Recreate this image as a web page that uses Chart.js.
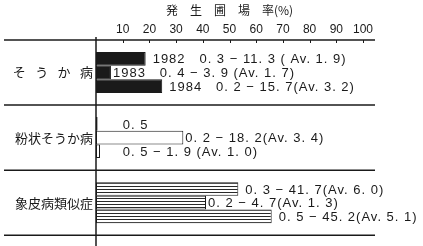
<!DOCTYPE html>
<html>
<head>
<meta charset="utf-8">
<script src="https://cdn.jsdelivr.net/npm/chart.js@4/dist/chart.umd.min.js"></script>
<style>
  html, body { margin: 0; padding: 0; background: #fff; }
  canvas { display: block; }
</style>
</head>
<body>
<canvas id="chart" width="423" height="246"></canvas>
<script>
const categories = ['そ\u2002 う\u2002 か\u2002 病', '粉状そうか病', '象皮病類似症'];
// bar lengths (%), one array per bar position
const firstBars  = [18.6, 0.6, 53.3];
const secondBars = [5.6, 32.7, 41.2];
const thirdBars  = [24.8, 1.5, 65.8];
const firstLabels  = ['1982   0. 3 − 11. 3 ( Av. 1. 9)', '0. 5', '0. 3 − 41. 7(Av. 6. 0)'];
const secondLabels = ['1983   0. 4 − 3. 9 (Av. 1. 7)', '0. 2 − 18. 2(Av. 3. 4)', '0. 2 − 4. 7(Av. 1. 3)'];
const thirdLabels  = ['1984   0. 2 − 15. 7(Av. 3. 2)', '0. 5 − 1. 9 (Av. 1. 0)', '0. 5 − 45. 2(Av. 5. 1)'];
const xTicks = [10, 20, 30, 40, 50, 60, 70, 80, 90, 100];

const ink = '#1a1a1a';

// horizontal stripes for the third group
function stripes() {
    const c = document.createElement('canvas');
    c.width = 4; c.height = 3;
    const g = c.getContext('2d');
    g.fillStyle = '#fff';
    g.fillRect(0, 0, 4, 3);
    g.fillStyle = '#2a2a2a';
    g.fillRect(0, 0, 4, 1);
    return g.createPattern(c, 'repeat');
}
const stripe = stripes();
const fills = [ink, '#fff', stripe];

function makeSet(values, labels, gap) {
    return {
        data: values,
        labels: labels,
        labelGap: gap,
        backgroundColor: fills,
        borderColor: ink,
        borderWidth: 1,
        borderSkipped: false,
        barPercentage: 1,
        categoryPercentage: 0.63
    };
}

// separators, axis lines and the text next to each bar
const decor = {
    id: 'decor',
    afterDraw(chart) {
        const ctx = chart.ctx;
        const area = chart.chartArea;
        const ys = chart.scales.y;
        const xs = chart.scales.x;
        ctx.save();
        ctx.strokeStyle = ink;
        ctx.lineWidth = 1.5;
        const n = categories.length;
        const step = (ys.getPixelForValue(1) - ys.getPixelForValue(0));
        for (let i = 0; i <= n; i++) {
            const y = ys.getPixelForValue(0) - step / 2 + i * step;
            ctx.beginPath();
            ctx.moveTo(4, y);
            ctx.lineTo(area.right + 12, y);
            ctx.stroke();
        }
        ctx.beginPath();
        ctx.moveTo(area.left, area.top - 3);
        ctx.lineTo(area.left, chart.height);
        ctx.stroke();

        // little tick marks hanging below the top axis
        ctx.lineWidth = 1;
        xTicks.forEach(v => {
            const x = Math.round(xs.getPixelForValue(v)) + 0.5;
            ctx.beginPath();
            ctx.moveTo(x, area.top);
            ctx.lineTo(x, area.top + 3);
            ctx.stroke();
        });

        ctx.fillStyle = ink;
        ctx.font = '13px "Liberation Sans"';
        ctx.textBaseline = 'middle';
        ctx.letterSpacing = '1px';
        const minX = xs.getPixelForValue(10);
        chart.data.datasets.forEach((ds, d) => {
            const meta = chart.getDatasetMeta(d);
            meta.data.forEach((bar, i) => {
                let x = bar.x + ds.labelGap;
                if (ds.data[i] < 2) x = minX;
                ctx.fillText(ds.labels[i], x, bar.y + 1);
            });
        });
        ctx.restore();
    }
};

new Chart(document.getElementById('chart'), {
    type: 'bar',
    data: {
        labels: categories,
        datasets: [
            makeSet(firstBars, firstLabels, 7),
            makeSet(secondBars, secondLabels, 2),
            makeSet(thirdBars, thirdLabels, 7)
        ]
    },
    options: {
        indexAxis: 'y',
        responsive: false,
        animation: false,
        layout: { padding: { left: 0, right: 60, top: 0, bottom: 5 } },
        plugins: { legend: { display: false }, tooltip: { enabled: false } },
        scales: {
            x: {
                position: 'top',
                min: 0,
                max: 100,
                afterFit(scale) { scale.height = 40; },
                afterBuildTicks(scale) { scale.ticks = xTicks.map(v => ({ value: v })); },
                grid: { display: false, drawTicks: false },
                border: { display: false },
                ticks: { color: ink, font: { family: 'Liberation Sans', size: 12 }, padding: 3, maxRotation: 0 },
                title: {
                    display: true,
                    text: '発\u3000生\u3000圃\u3000場\u3000率(%)',
                    color: ink,
                    font: { family: 'Noto Sans CJK JP', size: 12 },
                    padding: { top: 3, bottom: 0 }
                }
            },
            y: {
                afterFit(scale) { scale.width = 96; },
                grid: { display: false, drawTicks: false },
                border: { display: false },
                ticks: { color: ink, font: { family: 'Noto Sans CJK JP', size: 13 }, padding: 3 }
            }
        }
    },
    plugins: [decor]
});
</script>
</body>
</html>
